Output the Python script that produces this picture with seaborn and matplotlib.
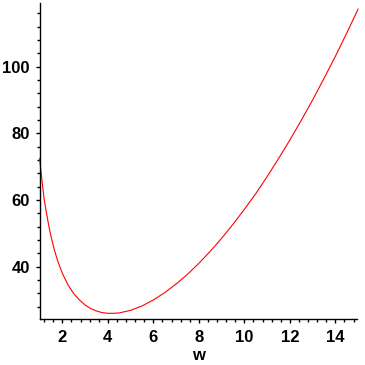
import matplotlib
matplotlib.use("Agg")
import matplotlib.pyplot as plt
import seaborn as sns
import pandas as pd
from matplotlib.ticker import MultipleLocator

# values
w_values = [1.0, 1.1, 1.2, 1.3, 1.4, 1.5, 1.65, 1.8, 2.0, 2.25, 2.5, 2.75, 3.0, 3.25, 3.5, 3.75,
            4.0, 4.25, 4.5, 5.0, 5.5, 6.0, 6.5, 7.0, 7.5, 8.0, 8.5, 9.0, 9.5, 10.0, 10.5, 11.0,
            11.5, 12.0, 12.5, 13.0, 13.5, 14.0, 14.5, 15.0]
f_values = [72.5, 66.1, 60.2, 56.2, 52.4, 49.1, 45.0, 41.6, 38.0, 34.5, 31.9, 30.0, 28.5, 27.4,
            26.7, 26.2, 26.0, 26.0, 26.1, 26.9, 28.2, 30.0, 32.2, 34.8, 37.7, 41.0, 44.6, 48.5,
            52.7, 57.2, 61.9, 67.0, 72.4, 78.0, 83.9, 90.0, 96.5, 103.1, 110.1, 117.3]
x_ticks = [2, 4, 6, 8, 10, 12, 14]
y_ticks = [40, 60, 80, 100]
x_label = "w"

df = pd.DataFrame({"w": w_values, "f": f_values})

sns.set_style("ticks")
plt.rcParams["font.family"] = ["Liberation Sans", "DejaVu Sans"]

fig = plt.figure(figsize=(3.65, 3.65), dpi=100)
ax = fig.add_axes([39.6 / 365, 1 - 319.3 / 365, (357.0 - 39.6) / 365, (319.3 - 3) / 365])

sns.lineplot(data=df, x="w", y="f", color="red", linewidth=0.8, ax=ax, clip_on=False)

ax.set_xlim(1, 14.95)
ax.set_ylim(24.2, 119.1)
ax.set_xticks(x_ticks)
ax.set_yticks(y_ticks)
ax.xaxis.set_minor_locator(MultipleLocator(0.4))
ax.yaxis.set_minor_locator(MultipleLocator(4))
ax.tick_params(axis="both", which="major", direction="out", length=3, width=1,
               labelsize=12, color="black", labelcolor="black")
ax.tick_params(axis="both", which="minor", direction="out", length=2.2, width=1, color="black")
ax.tick_params(axis="x", which="major", pad=5)
ax.tick_params(axis="y", which="major", pad=4)
for lab in ax.get_xticklabels() + ax.get_yticklabels():
    lab.set_fontweight("bold")

ax.set_xlabel(x_label, fontsize=12, fontweight="bold", labelpad=2, color="black")
ax.set_ylabel("")
sns.despine(ax=ax)
for s in ["left", "bottom"]:
    ax.spines[s].set_linewidth(1)
    ax.spines[s].set_color("black")

fig.savefig("out.png", dpi=100)
